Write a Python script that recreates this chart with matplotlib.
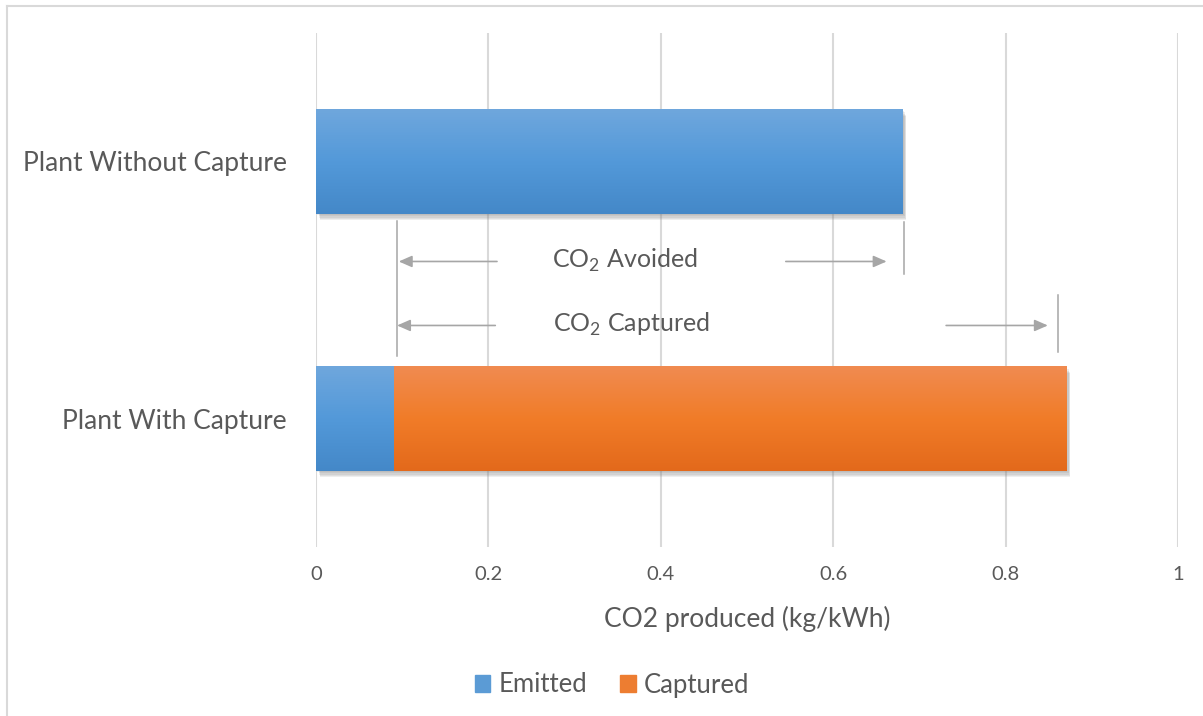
import numpy as np
import matplotlib
matplotlib.use("Agg")
import matplotlib.pyplot as plt
from matplotlib import patheffects as pe
from matplotlib.colors import LinearSegmentedColormap
from matplotlib.lines import Line2D
from matplotlib.patches import Rectangle

plt.rcParams["font.family"] = ["Lato", "DejaVu Sans"]
plt.rcParams["mathtext.fontset"] = "custom"
plt.rcParams["mathtext.rm"] = "Lato"

# --- data ---------------------------------------------------------------
categories = ["Plant With Capture", "Plant Without Capture"]
emitted = [0.09, 0.68]
captured = [0.78, 0.0]
series_names = ["Emitted", "Captured"]
x_ticks = [0, 0.2, 0.4, 0.6, 0.8, 1]
x_tick_labels = ["0", "0.2", "0.4", "0.6", "0.8", "1"]
x_label = "CO2 produced (kg/kWh)"

TEXT = "#595959"
GRID = "#D9D9D9"
ANNOT = "#A6A6A6"
BLUE = "#5B9BD5"
ORANGE = "#ED7D31"
blue_grad = LinearSegmentedColormap.from_list("b", ["#4488C8", "#5399D9", "#6FA7DD"])
orange_grad = LinearSegmentedColormap.from_list("o", ["#E3691B", "#F17C28", "#F08B51"])

W, H = 1203, 716
fig = plt.figure(figsize=(W / 100, H / 100), dpi=100)
fig.patch.set_facecolor("white")
ax = fig.add_axes([316 / W, 1 - 547 / H, (1178 - 316) / W, (547 - 33) / H])

y = np.arange(len(categories))
bar_h = 0.405
# soft drop shadow built from a few faint offset copies
shadow = [pe.SimplePatchShadow(offset=(dx, dy), shadow_rgbFace="#7F7F7F", alpha=0.13)
          for dx, dy in ((1, -1), (2, -2), (2, -3), (3, -4), (3, -5))] + [pe.Normal()]

b1 = ax.barh(y, emitted, height=bar_h, color=BLUE, label=series_names[0], zorder=2)
b2 = ax.barh(y, captured, left=emitted, height=bar_h, color=ORANGE, label=series_names[1], zorder=2)

# vertical gradient fill inside every bar segment
grad = np.linspace(0, 1, 256).reshape(-1, 1)
for bars, cmap in ((b1, blue_grad), (b2, orange_grad)):
    for p in bars:
        if p.get_width() <= 0:
            continue
        p.set_path_effects(shadow)
        x0, y0 = p.get_x(), p.get_y()
        im = ax.imshow(grad, cmap=cmap, origin="lower", aspect="auto",
                       extent=(x0, x0 + p.get_width(), y0, y0 + p.get_height()),
                       zorder=2.5)
        im.set_clip_path(p)

ax.set_xlim(0, 1)
ax.set_ylim(-0.5, 1.5)
ax.set_xticks(x_ticks)
ax.set_xticklabels(x_tick_labels)
ax.set_yticks(y)
ax.set_yticklabels(categories)
ax.tick_params(axis="x", length=0, pad=14, labelsize=14.5, labelcolor=TEXT)
ax.tick_params(axis="y", length=0, pad=21, labelsize=19, labelcolor=TEXT)
ax.grid(axis="x", color=GRID, linewidth=1.5, zorder=0)
ax.set_axisbelow(True)
for s in ax.spines.values():
    s.set_visible(False)
ax.set_xlabel(x_label, fontsize=19, color=TEXT, labelpad=16)

# CO2 avoided / captured annotations
arrow_kw = dict(arrowstyle="-|>,head_length=0.8,head_width=0.35", color=ANNOT, lw=1.2,
                shrinkA=0, shrinkB=0)
line_kw = dict(color=ANNOT, lw=1.1, zorder=3)
ax.plot([0.094, 0.094], [0.245, 0.770], **line_kw)
ax.plot([0.682, 0.682], [0.564, 0.763], **line_kw)
ax.plot([0.861, 0.861], [0.257, 0.479], **line_kw)
ax.annotate("", xy=(0.096, 0.611), xytext=(0.210, 0.611), arrowprops=arrow_kw)
ax.annotate("", xy=(0.662, 0.611), xytext=(0.545, 0.611), arrowprops=arrow_kw)
ax.annotate("", xy=(0.094, 0.362), xytext=(0.208, 0.362), arrowprops=arrow_kw)
ax.annotate("", xy=(0.849, 0.362), xytext=(0.731, 0.362), arrowprops=arrow_kw)
ax.text(0.358, 0.617, r"CO$_\mathregular{2}$ Avoided", ha="center", va="center",
        fontsize=18, color=TEXT)
ax.text(0.366, 0.365, r"CO$_\mathregular{2}$ Captured", ha="center", va="center",
        fontsize=18, color=TEXT)

# legend
handles = [Rectangle((0, 0), 1, 1, color=BLUE), Rectangle((0, 0), 1, 1, color=ORANGE)]
fig.legend(handles, series_names, loc="center", bbox_to_anchor=(612 / W, 1 - 685 / H),
           ncol=2, frameon=False, fontsize=18.5, labelcolor=TEXT,
           handlelength=0.6, handleheight=0.6, handletextpad=0.3, columnspacing=1.3)

# chart-area border
fig.add_artist(Line2D([7 / W, 7 / W], [0, 1 - 6 / H], color=GRID, lw=1.5))
fig.add_artist(Line2D([7 / W, 1], [1 - 6 / H, 1 - 6 / H], color=GRID, lw=1.5))

fig.savefig("out.png", dpi=100)
